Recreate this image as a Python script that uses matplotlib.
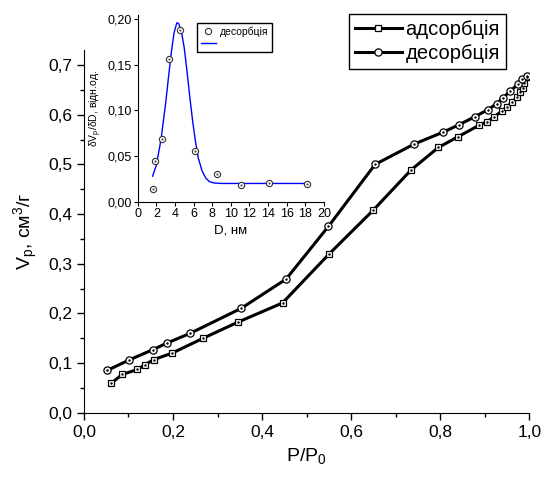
import matplotlib
matplotlib.use("Agg")
import matplotlib.pyplot as plt
from matplotlib.ticker import MultipleLocator, FuncFormatter

plt.rcParams['font.family'] = ['Liberation Sans', 'DejaVu Sans']

# адсорбція (squares)
ads_x = [0.061, 0.086, 0.120, 0.138, 0.157, 0.198, 0.268, 0.345, 0.446, 0.550,
         0.650, 0.735, 0.796, 0.839, 0.888, 0.905, 0.922, 0.938, 0.951, 0.962,
         0.972, 0.979, 0.985, 0.989, 0.995]
ads_y = [0.059, 0.077, 0.087, 0.097, 0.107, 0.120, 0.150, 0.182, 0.221, 0.319,
         0.408, 0.489, 0.534, 0.555, 0.579, 0.586, 0.596, 0.607, 0.616, 0.626,
         0.635, 0.645, 0.654, 0.663, 0.675]

# десорбція (circles)
des_x = [0.052, 0.101, 0.155, 0.186, 0.239, 0.353, 0.454, 0.549, 0.654, 0.742,
         0.807, 0.843, 0.878, 0.907, 0.927, 0.941, 0.957, 0.975, 0.984, 0.995]
des_y = [0.085, 0.106, 0.127, 0.140, 0.160, 0.210, 0.269, 0.375, 0.500, 0.541,
         0.565, 0.580, 0.596, 0.610, 0.622, 0.634, 0.647, 0.662, 0.671, 0.678]

# inset: pore size distribution
psd_d = [1.6, 1.9, 2.6, 3.4, 4.5, 6.2, 8.5, 11.1, 14.1, 18.2]
psd_v = [0.014, 0.045, 0.069, 0.156, 0.188, 0.056, 0.030, 0.018, 0.020, 0.019]

# fitted curve
fit_d = [1.6, 2.0, 2.5, 3.0, 3.3, 3.6, 3.9, 4.2, 4.4, 4.7, 5.0, 5.3, 5.6, 5.9,
         6.2, 6.5, 6.9, 7.3, 7.7, 8.2, 9.0, 12.0, 18.2]
fit_v = [0.028, 0.040, 0.068, 0.108, 0.136, 0.163, 0.185, 0.196, 0.195, 0.186,
         0.168, 0.142, 0.114, 0.088, 0.066, 0.048, 0.034, 0.026, 0.022, 0.0205,
         0.020, 0.020, 0.020]

fig = plt.figure(figsize=(5.45, 4.78), dpi=100)
ax = fig.add_axes([0.154, 0.1366, 0.817, 0.7585])

ax.plot(ads_x, ads_y, color='black', lw=2.2, marker='s', ms=4.6, mfc='white',
        mec='black', mew=0.9, label='адсорбція')
ax.plot(des_x, des_y, color='black', lw=2.2, marker='o', ms=5.2, mfc='white',
        mec='black', mew=0.9, label='десорбція')
ax.plot(ads_x, ads_y, ls='none', marker='.', ms=1.5, color='black')
ax.plot(des_x, des_y, ls='none', marker='.', ms=1.5, color='black')

ax.set_xlim(0, 1.0)
ax.set_ylim(0, 0.73)
ax.spines['top'].set_visible(False)
ax.spines['right'].set_visible(False)
ax.xaxis.set_major_locator(MultipleLocator(0.2))
ax.xaxis.set_minor_locator(MultipleLocator(0.1))
ax.yaxis.set_major_locator(MultipleLocator(0.1))
ax.yaxis.set_minor_locator(MultipleLocator(0.05))
comma1 = FuncFormatter(lambda v, p: f"{v:.1f}".replace('.', ','))
ax.xaxis.set_major_formatter(comma1)
ax.yaxis.set_major_formatter(comma1)
ax.tick_params(which='major', direction='out', length=5, width=1, labelsize=12.5)
ax.tick_params(which='minor', direction='out', length=3, width=1)
ax.set_xlabel(r'P/P$\mathregular{_0}$', fontsize=14, labelpad=5)
ax.set_ylabel(r'V$\mathregular{_p}$, см$\mathregular{^3}$/г', fontsize=14, labelpad=6)

ax.legend(loc='upper right', bbox_to_anchor=(506 / 545, 1 - 14 / 478),
          bbox_transform=fig.transFigure, borderaxespad=0, fontsize=14.5,
          frameon=True, fancybox=False, edgecolor='black', framealpha=1,
          handlelength=2.3, handletextpad=0.2, labelspacing=0.25,
          borderpad=0.3)

# inset
ins = fig.add_axes([0.2527, 0.578, 0.3418, 0.3916])
fit_line, = ins.plot(fit_d, fit_v, color='blue', lw=1.0)
pts, = ins.plot(psd_d, psd_v, ls='none', marker='o', ms=4.5, mfc='white',
                mec='#333333', mew=0.8)
ins.plot(psd_d, psd_v, ls='none', marker='.', ms=1, color='#333333')
ins.set_xlim(0, 20)
ins.set_ylim(0, 0.205)
ins.spines['top'].set_visible(False)
ins.spines['right'].set_visible(False)
ins.xaxis.set_major_locator(MultipleLocator(2))
ins.yaxis.set_major_locator(MultipleLocator(0.05))
ins.yaxis.set_major_formatter(FuncFormatter(lambda v, p: f"{v:.2f}".replace('.', ',')))
ins.tick_params(direction='out', length=3, width=0.8, labelsize=9, pad=1.5)
ins.set_xlabel('D, нм', fontsize=9.5, labelpad=3)
ins.set_ylabel(r'δV$\mathregular{_p}$/δD, відн.од.', fontsize=7.5, labelpad=2)
ins.legend([pts, fit_line], ['десорбція', ' '], loc='upper right',
           bbox_to_anchor=(272 / 545, 1 - 23 / 478), bbox_transform=fig.transFigure,
           borderaxespad=0, fontsize=7.5, frameon=True, fancybox=False,
           edgecolor='black', framealpha=1, handlelength=1.5,
           handletextpad=0.4, labelspacing=0.2, borderpad=0.3)

fig.savefig('out.png', dpi=100)
